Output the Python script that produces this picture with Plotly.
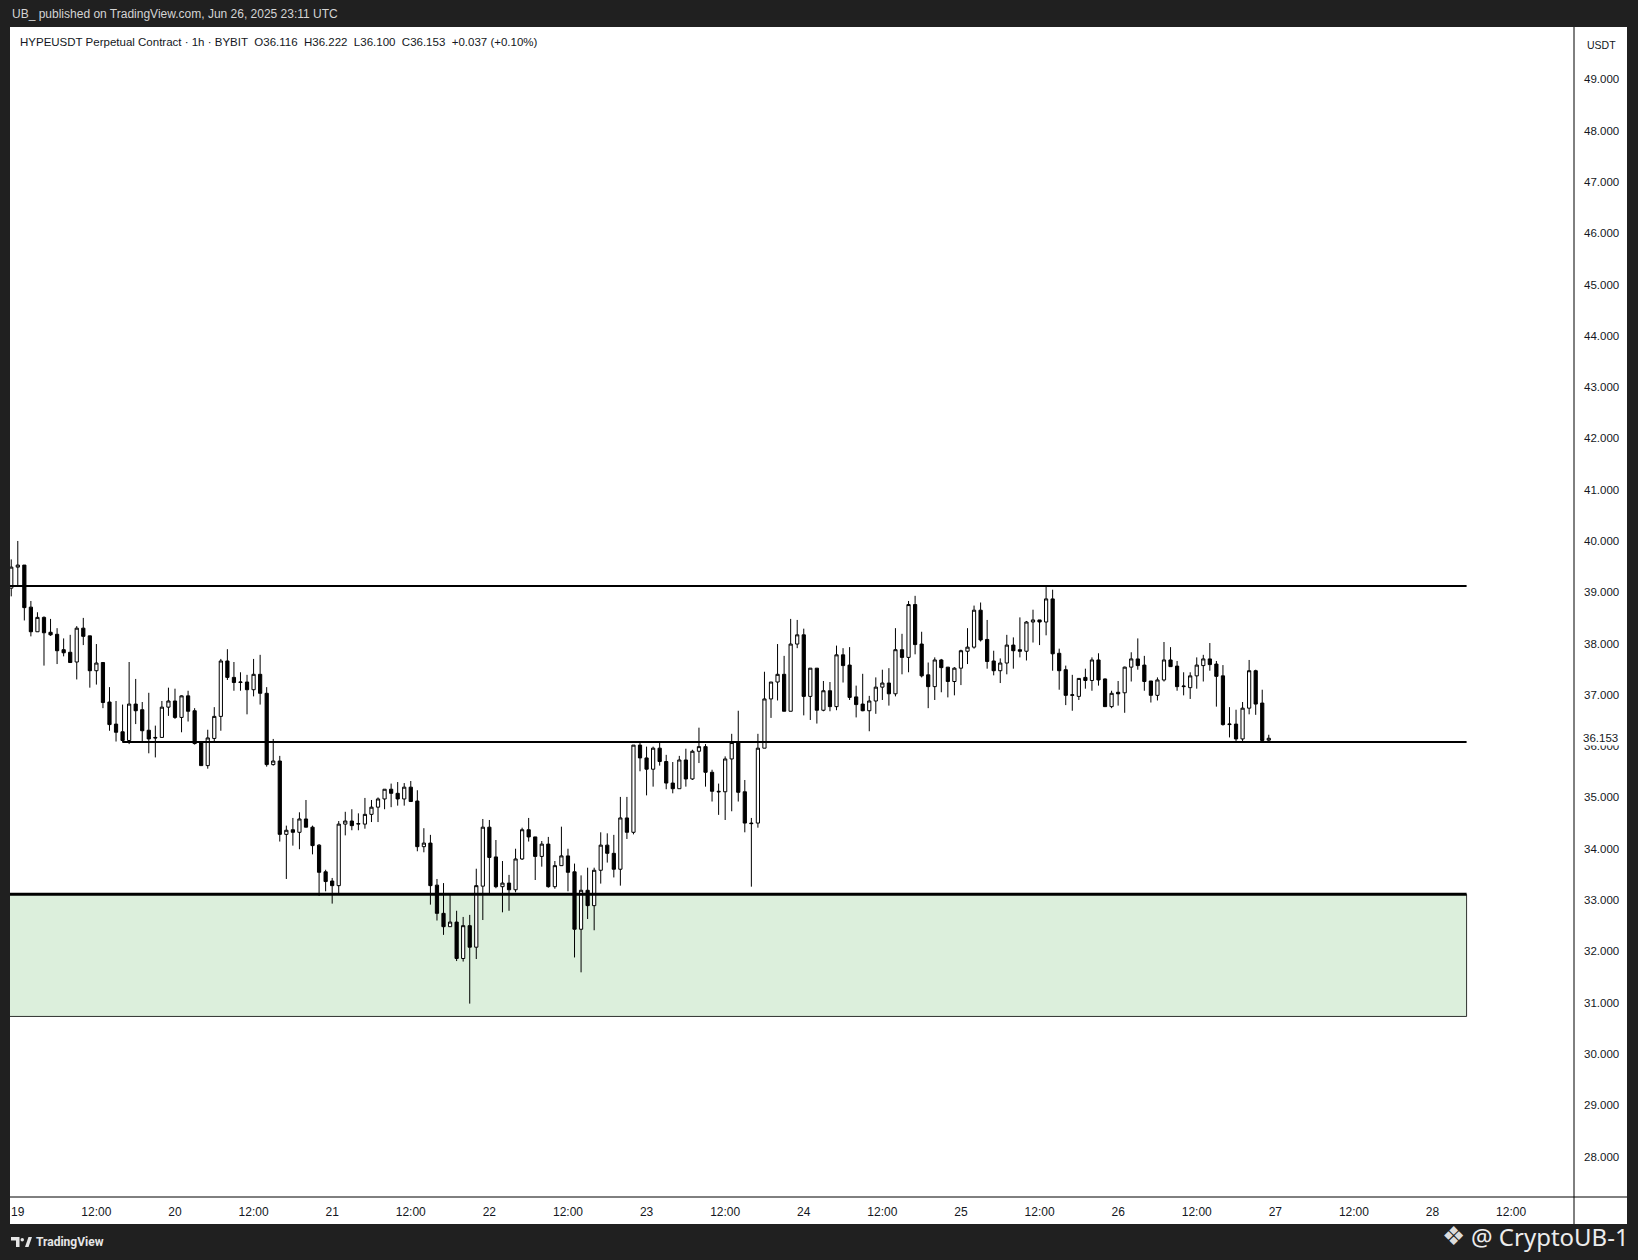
import pandas as pd
import plotly.graph_objects as go

# HYPEUSDT 1h candles (Jun 18 23:00 -> Jun 26 23:00 UTC)
start = '2025-06-18 23:00'

opens = [39.08, 39.49, 39.53, 38.71, 38.23, 38.51, 38.22, 38.18, 37.88, 37.83, 37.64, 38.30, 38.15,
         37.47, 37.63, 36.86, 36.43, 36.28, 36.11, 36.82, 36.71, 36.31, 36.17, 36.17, 36.76, 36.88,
         36.56, 36.98, 36.69, 36.06, 35.62, 36.15, 36.58, 37.66, 37.34, 37.24, 37.25, 37.10, 37.40,
         37.03, 35.64, 35.71, 34.28, 34.37, 34.32, 34.58, 34.42, 34.07, 33.55, 33.37,
         33.28, 34.48, 34.54, 34.48, 34.48, 34.67, 34.81, 34.97, 35.16, 35.08, 34.97, 35.20, 34.93,
         34.04, 34.11, 33.29, 32.74, 32.48, 32.57, 31.86, 32.50, 32.08, 33.27, 34.42, 33.84,
         33.26, 33.33, 33.20, 33.80, 34.37, 34.23, 33.85, 34.09, 33.26, 33.67, 33.86, 33.55, 32.43,
         33.19, 32.89, 33.58, 34.07, 33.91, 33.60, 34.60, 34.32, 36.02, 35.77, 35.55,
         35.96, 35.70, 35.28, 35.17, 35.73, 35.36, 35.90, 35.99, 35.49, 35.12, 35.11, 35.75, 36.07,
         35.11, 34.50, 34.50, 35.96, 36.92, 37.25, 37.40, 36.68, 37.99, 38.17,
         36.97, 37.52, 36.70, 37.08, 36.77, 37.78, 37.58, 36.96, 36.82, 36.69, 36.88, 37.15, 37.23,
         37.02, 37.88, 37.73, 38.76, 37.99, 37.39, 37.16, 37.68, 37.54, 37.26, 37.52,
         37.85, 37.93, 38.65, 38.08, 37.66, 37.47, 37.62, 37.97, 37.88, 37.85, 38.42, 38.46, 38.42,
         38.87, 37.81, 37.49, 36.99, 36.97, 37.34, 37.28, 37.68, 37.31, 36.77, 37.05,
         37.04, 37.54, 37.70, 37.58, 37.27, 36.99, 37.29, 37.68, 37.56, 37.16, 37.14, 37.37, 37.57,
         37.70, 37.60, 37.37, 36.42, 36.43, 36.14, 36.74, 37.47, 36.84, 36.116]

highs = [39.64, 40.00, 39.53, 38.83, 38.61, 38.53, 38.48, 38.30, 38.10, 38.17, 38.34, 38.50, 38.15,
         37.99, 37.63, 37.15, 36.88, 36.81, 37.64, 37.31, 36.86, 37.04, 36.40, 36.88, 37.14, 37.12,
         36.99, 37.08, 36.74, 36.06, 36.32, 36.76, 37.70, 37.89, 37.64, 37.44, 37.39, 37.70, 37.78,
         37.15, 36.14, 35.81, 34.45, 34.60, 34.71, 34.95, 34.45, 34.09, 33.59, 33.43,
         34.54, 34.72, 34.77, 34.69, 34.99, 34.95, 35.00, 35.16, 35.27, 35.30, 35.28, 35.32, 35.14,
         34.40, 34.27, 33.41, 33.33, 33.10, 32.79, 32.67, 32.71, 33.61, 34.58, 34.56, 34.17,
         33.76, 33.49, 34.00, 34.41, 34.60, 34.23, 34.15, 34.23, 33.76, 34.43, 34.00, 33.71, 33.48,
         33.63, 33.63, 34.32, 34.30, 34.27, 35.01, 35.01, 36.02, 36.06, 35.99, 35.99,
         36.10, 35.83, 35.69, 35.81, 35.95, 35.93, 36.36, 36.04, 35.54, 35.27, 35.80, 36.24, 36.69,
         35.34, 34.60, 36.24, 37.45, 37.25, 37.99, 37.76, 38.48, 38.46, 38.29,
         37.52, 37.52, 37.27, 37.25, 37.96, 37.91, 37.93, 37.18, 37.41, 36.98, 37.34, 37.49, 37.52,
         38.30, 38.19, 38.83, 38.93, 38.23, 37.63, 37.73, 37.70, 37.54, 37.54, 37.88,
         38.30, 38.74, 38.80, 38.46, 37.86, 37.71, 38.17, 38.12, 38.51, 38.44, 38.66, 38.46, 39.13,
         39.05, 37.90, 37.57, 37.39, 37.32, 37.51, 37.73, 37.81, 37.32, 37.08, 37.27,
         37.55, 37.83, 38.10, 37.76, 37.27, 37.34, 38.03, 37.93, 37.66, 37.44, 37.44, 37.73, 37.78,
         38.01, 37.66, 37.58, 36.76, 36.71, 36.86, 37.68, 37.49, 37.10, 36.222]

lows = [38.92, 39.11, 38.45, 38.14, 38.23, 37.57, 38.15, 37.60, 37.75, 37.63, 37.30, 37.97, 37.14,
        37.20, 36.74, 36.30, 36.09, 36.07, 36.04, 36.43, 36.09, 35.86, 35.78, 36.17, 36.59, 36.53,
        36.27, 36.48, 36.03, 35.62, 35.56, 36.09, 36.30, 37.29, 37.08, 37.08, 36.62, 36.97, 36.81,
        35.60, 35.62, 34.14, 33.41, 34.06, 33.99, 34.42, 33.89, 33.08, 33.17, 32.93,
        33.13, 34.26, 34.36, 34.36, 34.39, 34.52, 34.52, 34.77, 34.81, 34.84, 34.84, 34.92, 33.95,
        33.93, 32.91, 32.60, 32.32, 32.48, 31.81, 31.80, 30.98, 31.85, 32.61, 33.13, 33.23,
        32.76, 32.79, 33.15, 33.78, 34.14, 33.39, 33.65, 33.24, 33.22, 33.67, 33.17, 31.88, 31.59,
        32.63, 32.41, 33.32, 33.73, 33.44, 33.28, 34.19, 34.28, 35.51, 35.04, 35.21,
        35.62, 35.16, 35.08, 35.17, 35.21, 35.34, 35.67, 35.21, 34.92, 34.66, 34.56, 34.73, 34.92,
        34.32, 33.26, 34.41, 35.96, 36.55, 36.89, 36.68, 36.68, 37.91, 36.60,
        36.51, 36.44, 36.68, 36.68, 36.70, 37.24, 36.90, 36.56, 36.68, 36.29, 36.63, 36.90, 36.79,
        36.97, 37.40, 37.44, 37.79, 37.34, 36.74, 36.90, 37.05, 36.95, 36.99, 37.19,
        37.60, 37.90, 38.04, 37.51, 37.38, 37.23, 37.40, 37.51, 37.73, 37.67, 38.02, 37.97, 38.16,
        37.47, 37.10, 36.80, 36.69, 36.90, 37.12, 37.08, 37.18, 36.77, 36.74, 36.79,
        36.65, 37.26, 37.49, 37.08, 36.85, 36.89, 37.26, 37.55, 37.08, 36.99, 36.92, 37.12, 37.26,
        37.47, 36.77, 36.40, 36.17, 36.08, 36.08, 36.62, 36.61, 36.11, 36.100]

closes = [39.49, 39.53, 38.70, 38.23, 38.51, 38.21, 38.17, 37.86, 37.82, 37.63, 38.30, 38.14, 37.47,
          37.62, 36.85, 36.42, 36.27, 36.11, 36.82, 36.69, 36.30, 36.14, 36.16, 36.76, 36.88, 36.56,
          36.98, 36.68, 36.05, 35.62, 36.16, 36.58, 37.66, 37.34, 37.24, 37.25, 37.10, 37.40, 37.03,
          35.64, 35.71, 34.28, 34.36, 34.32, 34.58, 34.42, 34.06, 33.54, 33.36, 33.28,
          34.48, 34.54, 34.45, 34.49, 34.67, 34.81, 34.97, 35.16, 35.08, 34.97, 35.20, 34.92, 34.04,
          34.11, 33.28, 32.74, 32.48, 32.57, 31.86, 32.50, 32.08, 33.28, 34.42, 33.83, 33.26,
          33.33, 33.20, 33.80, 34.37, 34.23, 33.85, 34.09, 33.26, 33.67, 33.86, 33.54, 32.43, 33.19,
          32.89, 33.58, 34.07, 33.91, 33.60, 34.60, 34.32, 36.02, 35.77, 35.55, 35.96,
          35.70, 35.28, 35.17, 35.73, 35.36, 35.90, 35.99, 35.49, 35.12, 35.11, 35.75, 36.07, 35.10,
          34.50, 34.49, 35.96, 36.92, 37.25, 37.40, 36.68, 37.99, 38.17, 36.97,
          37.52, 36.70, 37.08, 36.77, 37.78, 37.57, 36.95, 36.81, 36.69, 36.88, 37.15, 37.23, 37.02,
          37.88, 37.73, 38.76, 37.98, 37.37, 37.16, 37.68, 37.53, 37.26, 37.52, 37.86,
          37.93, 38.65, 38.07, 37.65, 37.47, 37.62, 37.97, 37.86, 37.85, 38.42, 38.46, 38.42, 38.87,
          37.80, 37.47, 36.99, 37.00, 37.32, 37.28, 37.68, 37.29, 36.77, 37.03, 37.02,
          37.54, 37.70, 37.57, 37.26, 36.99, 37.29, 37.68, 37.55, 37.16, 37.17, 37.37, 37.58, 37.70,
          37.59, 37.36, 36.42, 36.43, 36.14, 36.74, 37.47, 36.82, 36.11, 36.153]

# drawn levels
resistance = 39.12
mid_level = 36.08
mid_start = '2025-06-19 16:00'
zone_top = 33.11
zone_bottom = 30.73
level_end = '2025-06-28 05:12'
last_price = 36.153

price_ticks = list(range(28, 50))
price_labels = ['%.3f' % p for p in price_ticks]

times = pd.date_range(start, periods=len(opens), freq='h')
time_ticks = pd.date_range('2025-06-19 00:00', '2025-06-28 12:00', freq='12h')
time_labels = [str(t.day) if t.hour == 0 else '12:00' for t in time_ticks]

x_lo = pd.Timestamp('2025-06-19') - pd.Timedelta(hours=1.19)
x_hi = pd.Timestamp('2025-06-19') + pd.Timedelta(hours=237.6)

BG = '#202020'
INK = '#131722'
FONT = 'Liberation Sans'


# pixel -> paper helpers (plot box is x 10..1574, y 27..1197)
def px(x):
    return (x - 10) / 1564


def py(y):
    return (1197 - y) / 1170


fig = go.Figure()
fig.add_trace(go.Candlestick(
    x=times, open=opens, high=highs, low=lows, close=closes,
    increasing=dict(fillcolor='white', line=dict(color='black', width=1)),
    decreasing=dict(fillcolor='black', line=dict(color='black', width=1)),
    hoverinfo='none', showlegend=False,
))

shapes = [
    # white chart panel incl. axis strips
    dict(type='rect', xref='paper', yref='paper', x0=px(10), x1=px(1627), y0=py(1224), y1=1,
         fillcolor='white', line=dict(width=0), layer='below'),
    dict(type='line', xref='paper', yref='paper', x0=1, x1=1, y0=py(1224), y1=1,
         line=dict(color='black', width=1)),
    dict(type='line', xref='paper', yref='paper', x0=0, x1=px(1627), y0=0, y1=0,
         line=dict(color='black', width=1)),
    # demand zone
    dict(type='rect', xref='x', yref='y', x0=x_lo - pd.Timedelta(hours=2), x1=level_end,
         y0=zone_bottom, y1=zone_top, fillcolor='#dcefdc',
         line=dict(color='rgba(0,0,0,0.8)', width=1), layer='below'),
    dict(type='line', xref='x', yref='y', x0=x_lo - pd.Timedelta(hours=2), x1=level_end,
         y0=zone_top, y1=zone_top, line=dict(color='black', width=3)),
    dict(type='line', xref='x', yref='y', x0=x_lo - pd.Timedelta(hours=2), x1=level_end,
         y0=resistance, y1=resistance, line=dict(color='black', width=2)),
    dict(type='line', xref='x', yref='y', x0=mid_start, x1=level_end,
         y0=mid_level, y1=mid_level, line=dict(color='black', width=2)),
]

# TradingView logo, roughly
logo = '#e6e6e6'
bar = 'M %f,%f L %f,%f L %f,%f L %f,%f L %f,%f L %f,%f Z' % (
    px(11), py(1237), px(19.5), py(1237), px(19.5), py(1247),
    px(16), py(1247), px(16), py(1240.5), px(11), py(1240.5))
slash = 'M %f,%f L %f,%f L %f,%f L %f,%f Z' % (
    px(25), py(1247), px(28.5), py(1237), px(32), py(1237), px(28.5), py(1247))
shapes += [
    dict(type='path', xref='paper', yref='paper', path=bar, fillcolor=logo, line=dict(width=0)),
    dict(type='circle', xref='paper', yref='paper', x0=px(20.5), x1=px(24), y0=py(1241.5),
         y1=py(1238), fillcolor=logo, line=dict(width=0)),
    dict(type='path', xref='paper', yref='paper', path=slash, fillcolor=logo, line=dict(width=0)),
]

nb = '\u00a0'
legend_txt = ('HYPEUSDT Perpetual Contract · 1h · BYBIT' + nb * 2 + 'O36.116' + nb * 2 + 'H36.222'
              + nb * 2 + 'L36.100' + nb * 2 + 'C36.153' + nb * 2 + '+0.037 (+0.10%)')

annotations = [
    dict(xref='paper', yref='paper', x=px(10), y=py(14), xanchor='left', yanchor='middle',
         text='UB_ published on TradingView.com, Jun 26, 2025 23:11 UTC', showarrow=False,
         font=dict(family=FONT, size=12, color='#d4d4d4')),
    dict(xref='paper', yref='paper', x=px(18), y=py(42), xanchor='left', yanchor='middle',
         text=legend_txt, showarrow=False, font=dict(family=FONT, size=11.5, color=INK)),
    dict(xref='paper', yref='paper', x=px(1601), y=py(45), xanchor='center', yanchor='middle',
         text='USDT', showarrow=False, font=dict(family=FONT, size=10.5, color=INK)),
    dict(xref='paper', yref='y', x=1, y=last_price, xanchor='left', yanchor='middle', xshift=7,
         text='36.153', showarrow=False, bgcolor='white', borderpad=1,
         font=dict(family=FONT, size=11.5, color=INK)),
    dict(xref='paper', yref='paper', x=px(34), y=py(1242), xanchor='left', yanchor='middle',
         text='<b>TradingView</b>', showarrow=False, font=dict(family='Roboto', size=12, color=logo)),
    dict(xref='paper', yref='paper', x=px(1467), y=py(1236), xanchor='right', yanchor='middle',
         text='❖', showarrow=False, font=dict(family='DejaVu Sans', size=26, color='#dcdcdc')),
    dict(xref='paper', yref='paper', x=px(1631), y=py(1236), xanchor='right', yanchor='middle',
         text='@ CryptoUB-1', showarrow=False, font=dict(family='Noto Sans', size=24, color='#ececec')),
]

fig.update_layout(
    width=1638, height=1260,
    margin=dict(l=10, r=64, t=27, b=63, pad=0),
    paper_bgcolor=BG, plot_bgcolor='white',
    showlegend=False, dragmode=False,
    shapes=shapes, annotations=annotations,
    xaxis=dict(type='date', range=[x_lo, x_hi], rangeslider=dict(visible=False),
               tickvals=list(time_ticks), ticktext=time_labels, showgrid=False, zeroline=False,
               ticks='', ticklabelstandoff=6, tickfont=dict(family=FONT, size=12, color=INK)),
    yaxis=dict(side='right', range=[27.21, 50.02], tickvals=price_ticks, ticktext=price_labels,
               showgrid=False, zeroline=False, ticks='', ticklabelstandoff=9,
               tickfont=dict(family=FONT, size=11.5, color=INK)),
)

fig.write_html("out.html", config={'displayModeBar': False},
               post_script="document.body.style.margin='0';document.body.style.background='#202020';")
